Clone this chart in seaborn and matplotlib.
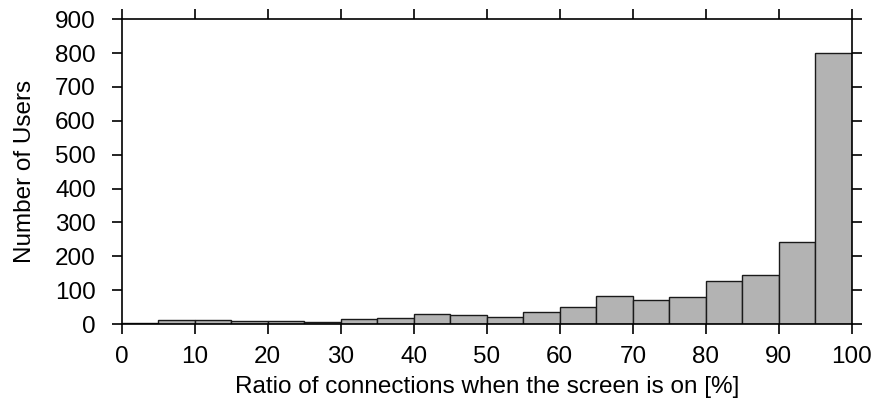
import numpy as np
import matplotlib
matplotlib.use("Agg")
import matplotlib.pyplot as plt
import seaborn as sns

bin_edges = [0, 5, 10, 15, 20, 25, 30, 35, 40, 45, 50, 55, 60, 65, 70, 75, 80, 85, 90, 95, 100]
counts = [2, 11, 11, 9, 8, 5, 14, 18, 30, 27, 22, 36, 49, 83, 71, 79, 128, 146, 242, 801]
x_ticks = [0, 10, 20, 30, 40, 50, 60, 70, 80, 90, 100]
y_ticks = [0, 100, 200, 300, 400, 500, 600, 700, 800, 900]

sns.set_theme(style="ticks")
plt.rcParams['font.family'] = ['Liberation Sans', 'DejaVu Sans']

centers = [(a + b) / 2 for a, b in zip(bin_edges[:-1], bin_edges[1:])]

fig = plt.figure(figsize=(8.81, 4.17), dpi=100)
ax = fig.add_axes([0.138, 0.223, 0.829, 0.731])
sns.histplot(x=centers, weights=counts, bins=bin_edges, ax=ax,
             color="#b3b3b3", edgecolor="#1a1a1a", linewidth=1.0, alpha=1.0)

ax.set_xlim(0, 100)
ax.set_ylim(0, 900)
ax.set_xticks(x_ticks)
ax.set_yticks(y_ticks)
ax.tick_params(direction="out", length=7.5, width=1.2, labelsize=17.5, colors="black",
               top=True, right=True, labeltop=False, labelright=False)
ax.tick_params(axis="x", pad=8)
ax.tick_params(axis="y", pad=11)
for s in ax.spines.values():
    s.set_linewidth(1.2)
    s.set_color("black")
    s.set_visible(True)
ax.set_xlabel("Ratio of connections when the screen is on [%]", fontsize=17.5,
              labelpad=6, color="black")
ax.set_ylabel("Number of Users", fontsize=17.5, labelpad=14, color="black")

fig.savefig("out.png", dpi=100)
